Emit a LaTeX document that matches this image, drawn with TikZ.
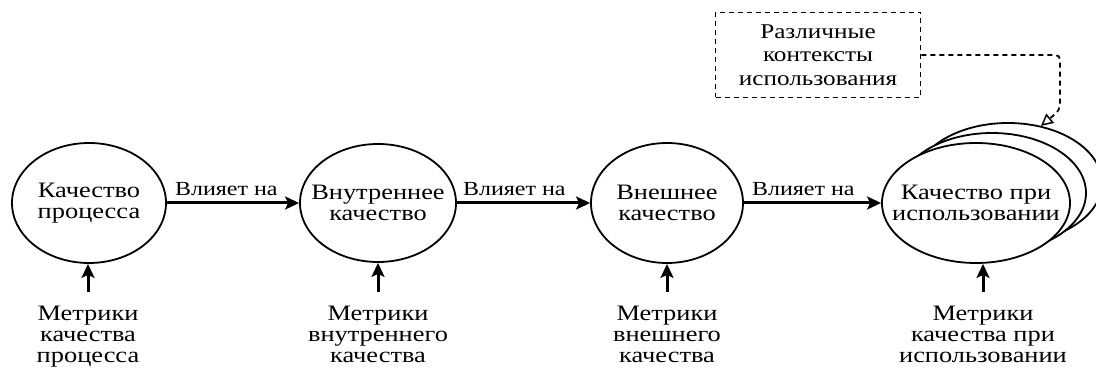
\documentclass[tikz,border=0pt]{standalone}
\usepackage{fontspec}
\setmainfont{Liberation Serif}[FakeStretch=1.2]
\usetikzlibrary{arrows.meta,shapes.geometric,calc}
\begin{document}
\begin{tikzpicture}[x=1pt,y=-1pt,
  qual/.style={ellipse, draw, line width=1.8pt, fill=white, inner sep=0pt},
  qtext/.style={align=center, inner sep=0pt, font=\fontsize{22}{21}\selectfont},
  metric/.style={align=center, inner sep=2pt, outer sep=12pt,
    font=\fontsize{22}{21}\selectfont},
  flowlabel/.style={anchor=base west, inner sep=0pt, font=\fontsize{20}{20}\selectfont},
  flow/.style={line width=3pt, -{Stealth[length=14pt,width=13pt,inset=3pt]}},
  ctxbox/.style={draw, line width=1.8pt, dash pattern=on 5pt off 4pt, align=center,
    minimum width=205pt, minimum height=85pt, inner sep=0pt,
    font=\fontsize{21}{23.5}\selectfont},
  ctxarrow/.style={line width=1.8pt, dash pattern=on 5pt off 4pt,
    -{Triangle[open,length=12pt,width=12pt,line width=1.5pt]}}]

\useasboundingbox (0,0) rectangle (1096,371);

% quality nodes (text set as a centred label so it does not grow the ellipse)
\node[qual, minimum width=154pt, minimum height=120pt,
  label={[qtext]center:Качество\\процесса}] (e1) at (89,203) {};
\node[qual, minimum width=156pt, minimum height=118pt,
  label={[qtext]center:Внутреннее\\качество}] (e2) at (378,203) {};
\node[qual, minimum width=152pt, minimum height=120pt,
  label={[qtext]center:Внешнее\\качество}] (e3) at (667,203) {};
% stacked quality-in-use node
\node[qual, minimum width=188pt, minimum height=120pt] (e4c) at (1008,183) {};
\node[qual, minimum width=188pt, minimum height=120pt] (e4b) at (992,193) {};
\node[qual, minimum width=188pt, minimum height=120pt,
  label={[qtext]center:Качество при\\использовании}] (e4) at (976,203) {};

% influence arrows
\draw[flow] (e1.east) -- (e2.west);
\draw[flow] (e2.east) -- (e3.west);
\draw[flow] (e3.east) -- (e4.west);
\node[flowlabel] (l1) at ($(e1.east)+(8,-7)$) {Влияет на};
\node[flowlabel] (l2) at ($(e2.east)+(6,-7)$) {Влияет на};
\node[flowlabel] (l3) at ($(e3.east)+(8,-7)$) {Влияет на};

% metrics
\node[metric, anchor=north] (m1) at (88,292) {Метрики\\качества\\процесса};
\node[metric, anchor=north] (m2) at (378,292) {Метрики\\внутреннего\\качества};
\node[metric, anchor=north] (m3) at (667,292) {Метрики\\внешнего\\качества};
\node[metric, anchor=north] (m4) at (983,292) {Метрики\\качества при\\использовании};
\draw[flow] (m1.north) -- (e1.south -| m1.north);
\draw[flow] (m2.north) -- (e2.south);
\draw[flow] (m3.north) -- (e3.south);
\draw[flow] (m4.north) -- (e4.south -| m4.north);

% contexts of use
\node[ctxbox] (ctx) at (818,55) {Различные\\контексты\\использования};
\draw[ctxarrow] (ctx.east) -- (1050,55) .. controls (1060,55) .. (1060,66)
  -- (1060,96) .. controls (1060,110) .. (e4c.60);
\end{tikzpicture}
\end{document}
